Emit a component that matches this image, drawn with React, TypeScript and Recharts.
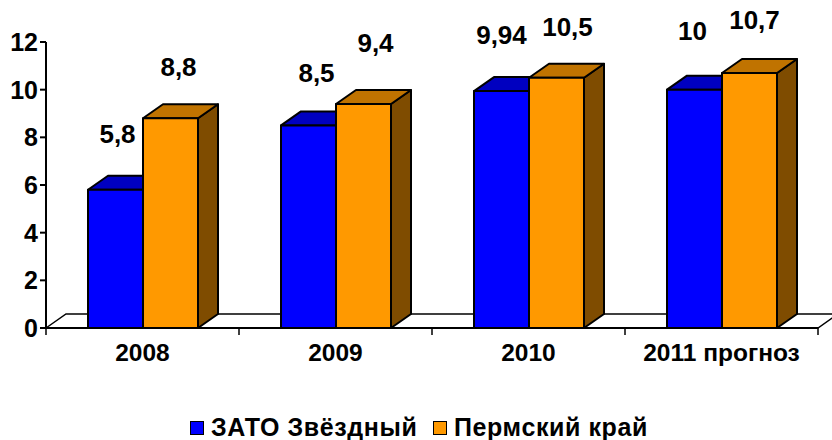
import { BarChart, Bar, XAxis, YAxis, LabelList, Legend, usePlotArea } from "recharts";

const categories = ["2008", "2009", "2010", "2011 прогноз"];
const zatoValues = [5.8, 8.5, 9.94, 10];
const permValues = [8.8, 9.4, 10.5, 10.7];
const zatoLabels = ["5,8", "8,5", "9,94", "10"];
const permLabels = ["8,8", "9,4", "10,5", "10,7"];
const yTicks = [0, 2, 4, 6, 8, 10, 12];

const data = categories.map((name, i) => ({
  name,
  zato: zatoValues[i],
  perm: permValues[i],
}));

// depth of the fake 3d
const DX = 20;
const DY = 14;
const FONT = "'Liberation Sans', Arial, sans-serif";

// label nudges from the bar top centre
const zatoNudge = [[2, -56], [8, -52], [0, -56], [-2, -59]];
const permNudge = [[8, -51], [12, -61], [11, -51], [5, -53]];

function Bar3D(props: any) {
  const { x, y, width, height, fill, topFill, sideFill } = props;
  const edge = { stroke: "#000", strokeWidth: 2, strokeLinejoin: "round" as const };
  return (
    <g>
      <path
        d={`M${x + width},${y} l${DX},${-DY} v${height} l${-DX},${DY} z`}
        fill={sideFill}
        {...edge}
      />
      <path
        d={`M${x},${y} l${DX},${-DY} h${width} l${-DX},${DY} z`}
        fill={topFill}
        {...edge}
      />
      <rect x={x} y={y} width={width} height={height} fill={fill} {...edge} />
    </g>
  );
}

function Floor() {
  const area = usePlotArea();
  if (!area) return null;
  const { x, y, width, height } = area;
  const bottom = y + height;
  const step = width / categories.length;
  return (
    <g>
      <path
        d={`M${x},${bottom} l${DX},${-DY} H${x + width + DX} l${-DX},${DY} z`}
        fill="#fff"
        stroke="#000"
        strokeWidth={1.5}
      />
      {categories.concat("").map((c, i) => (
        <line
          key={i}
          x1={x + step * i}
          x2={x + step * i}
          y1={bottom}
          y2={bottom + 7}
          stroke="#000"
          strokeWidth={1.5}
        />
      ))}
    </g>
  );
}

function makeLabel(labels: string[], nudge: number[][]) {
  return (props: any) => {
    const { x, y, width, index } = props;
    return (
      <text
        x={x + width / 2 + nudge[index][0]}
        y={y + nudge[index][1]}
        textAnchor="middle"
        dominantBaseline="central"
        fontFamily={FONT}
        fontWeight="bold"
        fontSize={26}
        fill="#000"
      >
        {labels[index]}
      </text>
    );
  };
}

function LegendBox() {
  const item = (color: string, text: string, left: number) => (
    <div
      style={{
        position: "absolute",
        left,
        top: 0,
        display: "flex",
        alignItems: "center",
        whiteSpace: "nowrap",
      }}
    >
      <span
        style={{
          width: 12,
          height: 12,
          background: color,
          border: "1.5px solid #000",
          marginRight: 7,
        }}
      />
      <span style={{ fontFamily: FONT, fontWeight: "bold", fontSize: 25, letterSpacing: 0.6 }}>
        {text}
      </span>
    </div>
  );
  return (
    <div style={{ position: "relative", height: 30 }}>
      {item("#0000ff", "ЗАТО Звёздный", 190)}
      {item("#ff9900", "Пермский край", 433)}
    </div>
  );
}

export default function App() {
  return (
    <div style={{ position: "absolute", left: 0, top: 0, width: 832, height: 440, overflow: "hidden", background: "#fff" }}>
      <BarChart
        width={832}
        height={440}
        data={data}
        margin={{ top: 42, right: 14, bottom: 42, left: 0 }}
        barSize={55}
        barGap={0}
      >
        <Floor />
        <XAxis
          dataKey="name"
          tickLine={false}
          axisLine={{ stroke: "#000", strokeWidth: 2 }}
          tick={{ fontFamily: FONT, fontWeight: "bold", fontSize: 24.5, fill: "#000" }}
          tickMargin={10}
          interval={0}
          height={40}
        />
        <YAxis
          domain={[0, 12]}
          ticks={yTicks}
          width={46}
          axisLine={{ stroke: "#000", strokeWidth: 2 }}
          tickLine={{ stroke: "#000", strokeWidth: 2 }}
          tickSize={6}
          tickMargin={2}
          tick={{ fontFamily: FONT, fontWeight: "bold", fontSize: 25, fill: "#000" }}
        />
        <Legend
          content={<LegendBox />}
          verticalAlign="bottom"
          wrapperStyle={{ left: 0, top: 413, width: 832, bottom: "auto" }}
        />
        <Bar
          dataKey="zato"
          name="ЗАТО Звёздный"
          fill="#0000ff"
          isAnimationActive={false}
          shape={<Bar3D topFill="#0000c0" sideFill="#00007f" />}
        >
          <LabelList dataKey="zato" content={makeLabel(zatoLabels, zatoNudge)} />
        </Bar>
        <Bar
          dataKey="perm"
          name="Пермский край"
          fill="#ff9900"
          isAnimationActive={false}
          shape={<Bar3D topFill="#c07300" sideFill="#7f4c00" />}
        >
          <LabelList dataKey="perm" content={makeLabel(permLabels, permNudge)} />
        </Bar>
      </BarChart>
    </div>
  );
}
